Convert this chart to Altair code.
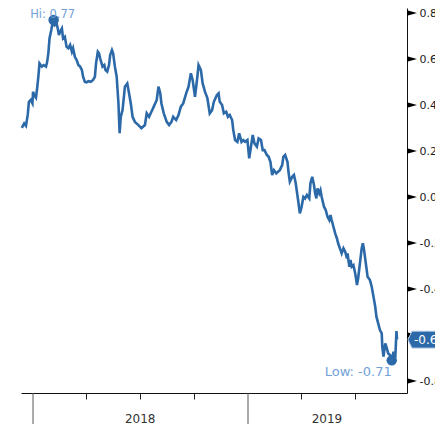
import altair as alt
import pandas as pd

# ---- series (date, value) ----
dates_2018a = ["2017-12-13", "2017-12-17", "2017-12-20", "2017-12-23", "2017-12-25", "2017-12-28", "2017-12-31",
               "2018-01-01", "2018-01-03", "2018-01-06", "2018-01-08", "2018-01-10", "2018-01-12", "2018-01-16",
               "2018-01-19", "2018-01-23", "2018-01-25", "2018-01-27", "2018-01-29", "2018-02-01", "2018-02-03",
               "2018-02-05", "2018-02-07", "2018-02-10", "2018-02-12", "2018-02-14", "2018-02-16", "2018-02-19",
               "2018-02-21", "2018-02-24", "2018-02-27", "2018-03-02", "2018-03-05", "2018-03-08", "2018-03-10",
               "2018-03-13", "2018-03-16", "2018-03-19", "2018-03-22", "2018-03-25", "2018-03-27", "2018-03-30",
               "2018-04-02", "2018-04-05", "2018-04-09", "2018-04-13", "2018-04-16", "2018-04-18", "2018-04-21",
               "2018-04-23", "2018-04-25", "2018-04-29", "2018-05-02", "2018-05-04", "2018-05-07", "2018-05-10",
               "2018-05-12", "2018-05-15"]
values_2018a = [0.301, 0.320, 0.310, 0.357, 0.414, 0.422, 0.407,
                0.458, 0.443, 0.432, 0.473, 0.523, 0.581, 0.567,
                0.574, 0.567, 0.588, 0.625, 0.690, 0.726, 0.755,
                0.770, 0.748, 0.755, 0.733, 0.704, 0.719, 0.733,
                0.690, 0.697, 0.653, 0.647, 0.661, 0.632, 0.647,
                0.610, 0.596, 0.574, 0.567, 0.552, 0.523, 0.501,
                0.499, 0.504, 0.501, 0.509, 0.523, 0.581, 0.632,
                0.625, 0.603, 0.567, 0.574, 0.552, 0.545, 0.574,
                0.617, 0.639]

dates_2018b = ["2018-05-17", "2018-05-20", "2018-05-23", "2018-05-26", "2018-05-28", "2018-05-30", "2018-06-02",
               "2018-06-06", "2018-06-10", "2018-06-13", "2018-06-16", "2018-06-19", "2018-06-23", "2018-06-29",
               "2018-07-04", "2018-07-10", "2018-07-13", "2018-07-17", "2018-07-21", "2018-07-25", "2018-07-30",
               "2018-08-02", "2018-08-05", "2018-08-07", "2018-08-11", "2018-08-16", "2018-08-20", "2018-08-24",
               "2018-08-27", "2018-09-01", "2018-09-05", "2018-09-09", "2018-09-13", "2018-09-18", "2018-09-22",
               "2018-09-26", "2018-09-29", "2018-10-03", "2018-10-07", "2018-10-09", "2018-10-13", "2018-10-16",
               "2018-10-20"]
values_2018b = [0.625, 0.567, 0.523, 0.409, 0.278, 0.349, 0.378,
                0.480, 0.494, 0.451, 0.407, 0.349, 0.327, 0.313,
                0.299, 0.313, 0.364, 0.349, 0.371, 0.393, 0.422,
                0.480, 0.451, 0.407, 0.364, 0.327, 0.313, 0.327,
                0.349, 0.335, 0.357, 0.393, 0.407, 0.451, 0.480,
                0.538, 0.509, 0.436, 0.523, 0.574, 0.552, 0.494,
                0.457]

dates_2018c = ["2018-10-24", "2018-10-28", "2018-11-01", "2018-11-04", "2018-11-09", "2018-11-12", "2018-11-14",
               "2018-11-18", "2018-11-21", "2018-11-25", "2018-11-28", "2018-12-01", "2018-12-05", "2018-12-07",
               "2018-12-10", "2018-12-14", "2018-12-17", "2018-12-21", "2018-12-24", "2018-12-27", "2018-12-31"]
values_2018c = [0.430, 0.364, 0.378, 0.414, 0.443, 0.451, 0.414,
                0.400, 0.364, 0.371, 0.349, 0.357, 0.335, 0.291,
                0.248, 0.240, 0.277, 0.240, 0.248, 0.240, 0.248]

dates_2019a = ["2019-01-03", "2019-01-06", "2019-01-09", "2019-01-12", "2019-01-16", "2019-01-19", "2019-01-23",
               "2019-01-26", "2019-01-29", "2019-02-02", "2019-02-05", "2019-02-08", "2019-02-11", "2019-02-14",
               "2019-02-18", "2019-02-21", "2019-02-24", "2019-02-28", "2019-03-02", "2019-03-05", "2019-03-09",
               "2019-03-11", "2019-03-13", "2019-03-17", "2019-03-20", "2019-03-23"]
values_2019a = [0.168, 0.219, 0.270, 0.233, 0.219, 0.255, 0.248,
                0.204, 0.204, 0.183, 0.175, 0.153, 0.096, 0.117,
                0.103, 0.110, 0.117, 0.139, 0.175, 0.183, 0.153,
                0.103, 0.067, 0.088, 0.096, 0.060]

dates_2019b = ["2019-03-27", "2019-03-30", "2019-04-02", "2019-04-05", "2019-04-08", "2019-04-11", "2019-04-15",
               "2019-04-17", "2019-04-20", "2019-04-23", "2019-04-25", "2019-04-27", "2019-04-29", "2019-05-02",
               "2019-05-04", "2019-05-06", "2019-05-10", "2019-05-13", "2019-05-16", "2019-05-19", "2019-05-21",
               "2019-05-23", "2019-05-26", "2019-05-29", "2019-06-01", "2019-06-03", "2019-06-06", "2019-06-09",
               "2019-06-12", "2019-06-15", "2019-06-18", "2019-06-19", "2019-06-22", "2019-06-24", "2019-06-26",
               "2019-06-29", "2019-07-02", "2019-07-05", "2019-07-07", "2019-07-10", "2019-07-13", "2019-07-15",
               "2019-07-17", "2019-07-20", "2019-07-23", "2019-07-27", "2019-07-30", "2019-08-02", "2019-08-05",
               "2019-08-07", "2019-08-10", "2019-08-13", "2019-08-16", "2019-08-17", "2019-08-19", "2019-08-22",
               "2019-08-24", "2019-08-27", "2019-08-30", "2019-09-02", "2019-09-05", "2019-09-08", "2019-09-10",
               "2019-09-11"]
values_2019b = [-0.013, -0.071, -0.042, 0.001, -0.006, 0.009, -0.006,
                0.060, 0.088, 0.052, 0.016, -0.006, 0.038, 0.016,
                0.030, 0.001, -0.042, -0.057, -0.086, -0.100, -0.078,
                -0.100, -0.129, -0.158, -0.180, -0.201, -0.223, -0.245,
                -0.223, -0.238, -0.267, -0.245, -0.303, -0.274, -0.303,
                -0.296, -0.332, -0.383, -0.353, -0.288, -0.223, -0.201,
                -0.230, -0.288, -0.347, -0.361, -0.390, -0.433, -0.477,
                -0.520, -0.549, -0.578, -0.593, -0.651, -0.694, -0.636,
                -0.651, -0.680, -0.687, -0.710, -0.673, -0.700, -0.583,
                -0.620]

# axis ticks / labels
y_ticks = [-0.8, -0.7, -0.6, -0.5, -0.4, -0.3, -0.2, -0.1, 0.0, 0.1, 0.2, 0.3, 0.4, 0.5, 0.6, 0.7, 0.8]
y_major = [-0.8, -0.6, -0.4, -0.2, 0.0, 0.2, 0.4, 0.6, 0.8]
quarter_ticks = ["2018-04-01", "2018-07-01", "2018-10-01", "2019-04-01", "2019-07-01"]
year_ticks = ["2018-01-01", "2019-01-01"]
year_labels = ["2018", "2019"]
year_label_dates = ["2018-07-02", "2019-05-15"]

dates = dates_2018a + dates_2018b + dates_2018c + dates_2019a + dates_2019b
values = values_2018a + values_2018b + values_2018c + values_2019a + values_2019b
df = pd.DataFrame({"date": dates, "value": values})

hi = df.loc[df["value"].idxmax()]
lo = df.loc[df["value"].idxmin()]
last = df.iloc[-1]
hi_df = pd.DataFrame({"date": [hi["date"]], "value": [hi["value"]], "label": [f"Hi: {hi['value']:.2f}"]})
lo_df = pd.DataFrame({"date": [lo["date"]], "value": [lo["value"]], "label": [f"Low: {lo['value']:.2f}"]})
last_df = pd.DataFrame({"value": [last["value"]], "label": [f"{last['value']:.2f}"]})

W, H = 386, 385
LINE = "#2c69a8"
ANN = "#73a2d8"
FONT = "DejaVu Sans"


def dt(s, hours=0):
    y, m, d = (int(p) for p in s.split("-"))
    return alt.DateTime(year=y, month=m, date=d, hours=hours, utc=True)


x_scale = alt.Scale(type="utc", domain=[dt("2017-12-11", 14), dt("2019-09-27", 22)])
y_scale = alt.Scale(domain=[-0.852, 0.822], nice=False, zero=False)

x_enc = alt.X("date:T", scale=x_scale,
              axis=alt.Axis(values=[dt(s) for s in quarter_ticks], labels=False, tickSize=6,
                            tickColor="#222", domainColor="#111", title=None, grid=False))
y_enc = alt.Y("value:Q", scale=y_scale,
              axis=alt.Axis(orient="right", values=y_ticks, tickSize=4, labelPadding=8,
                            labelExpr="abs(round(datum.value*10)) % 2 == 0 ? "
                                      "(datum.value < -0.001 ? '-' : '') + format(abs(datum.value), '.2f') : ''",
                            labelFont=FONT, labelFontSize=11, labelColor="#1b1b1b",
                            labelAlign="left", labelBaseline="middle",
                            domainColor="#111", tickColor="#111", grid=False, title=None))

line = alt.Chart(df).mark_line(color=LINE, strokeWidth=2.6).encode(x=x_enc, y=y_enc)

# major tick arrows on right axis
arrows = alt.Chart(pd.DataFrame({"value": y_major})).mark_point(
    shape="M-1,-0.55L1,0L-1,0.55Z", filled=True, color="#000", opacity=1, size=100
).encode(x=alt.value(W + 5), y=alt.Y("value:Q", scale=y_scale))

# year separators and labels
year_rules = alt.Chart(pd.DataFrame({"date": year_ticks})).mark_rule(color="#555", strokeWidth=1).encode(
    x=alt.X("date:T", scale=x_scale), y=alt.value(H), y2=alt.value(H + 45))
year_text = alt.Chart(pd.DataFrame({"date": year_label_dates, "label": year_labels})).mark_text(
    font=FONT, fontSize=12, color="#333", baseline="middle", align="center"
).encode(x=alt.X("date:T", scale=x_scale), y=alt.value(H + 26), text="label:N")

# hi / low markers
hi_pt = alt.Chart(hi_df).mark_point(filled=True, color=LINE, opacity=1, size=110).encode(
    x=alt.X("date:T", scale=x_scale), y=alt.Y("value:Q", scale=y_scale))
hi_txt = alt.Chart(hi_df).mark_text(font=FONT, fontSize=11.5, color=ANN, dy=-2, dx=-1, align="center",
                                    baseline="alphabetic").encode(
    x=alt.X("date:T", scale=x_scale), y=alt.Y("value:Q", scale=y_scale), text="label:N")
lo_pt = alt.Chart(lo_df).mark_point(filled=True, color=LINE, opacity=1, size=110).encode(
    x=alt.X("date:T", scale=x_scale), y=alt.Y("value:Q", scale=y_scale))
lo_txt = alt.Chart(lo_df).mark_text(font=FONT, fontSize=13, color=ANN, dy=12, dx=0, align="right",
                                    baseline="middle").encode(
    x=alt.X("date:T", scale=x_scale), y=alt.Y("value:Q", scale=y_scale), text="label:N")

# last value tag
tag = alt.Chart(last_df).mark_point(
    shape="M-1,0L-0.8,-0.42L1,-0.42L1,0.42L-0.8,0.42Z", filled=True, fill="#2c69a8",
    stroke="#a8c4e4", strokeWidth=1, opacity=1, size=1600
).encode(x=alt.value(W + 21), y=alt.Y("value:Q", scale=y_scale))
tag_txt = alt.Chart(last_df).mark_text(font=FONT, fontSize=12, color="white", align="left",
                                       baseline="middle").encode(
    x=alt.value(W + 7), y=alt.Y("value:Q", scale=y_scale), text="label:N")

chart = alt.layer(
    line, year_rules, year_text, arrows, hi_pt, lo_pt, hi_txt, lo_txt, tag, tag_txt
).properties(
    width=W, height=H,
    autosize=alt.AutoSizeParams(type="none"),
    padding={"left": 13, "top": 0, "right": 28, "bottom": 31},
    background="white",
).configure_view(stroke=None)

chart.save("out.html", embed_options={"renderer": "svg", "actions": False})
